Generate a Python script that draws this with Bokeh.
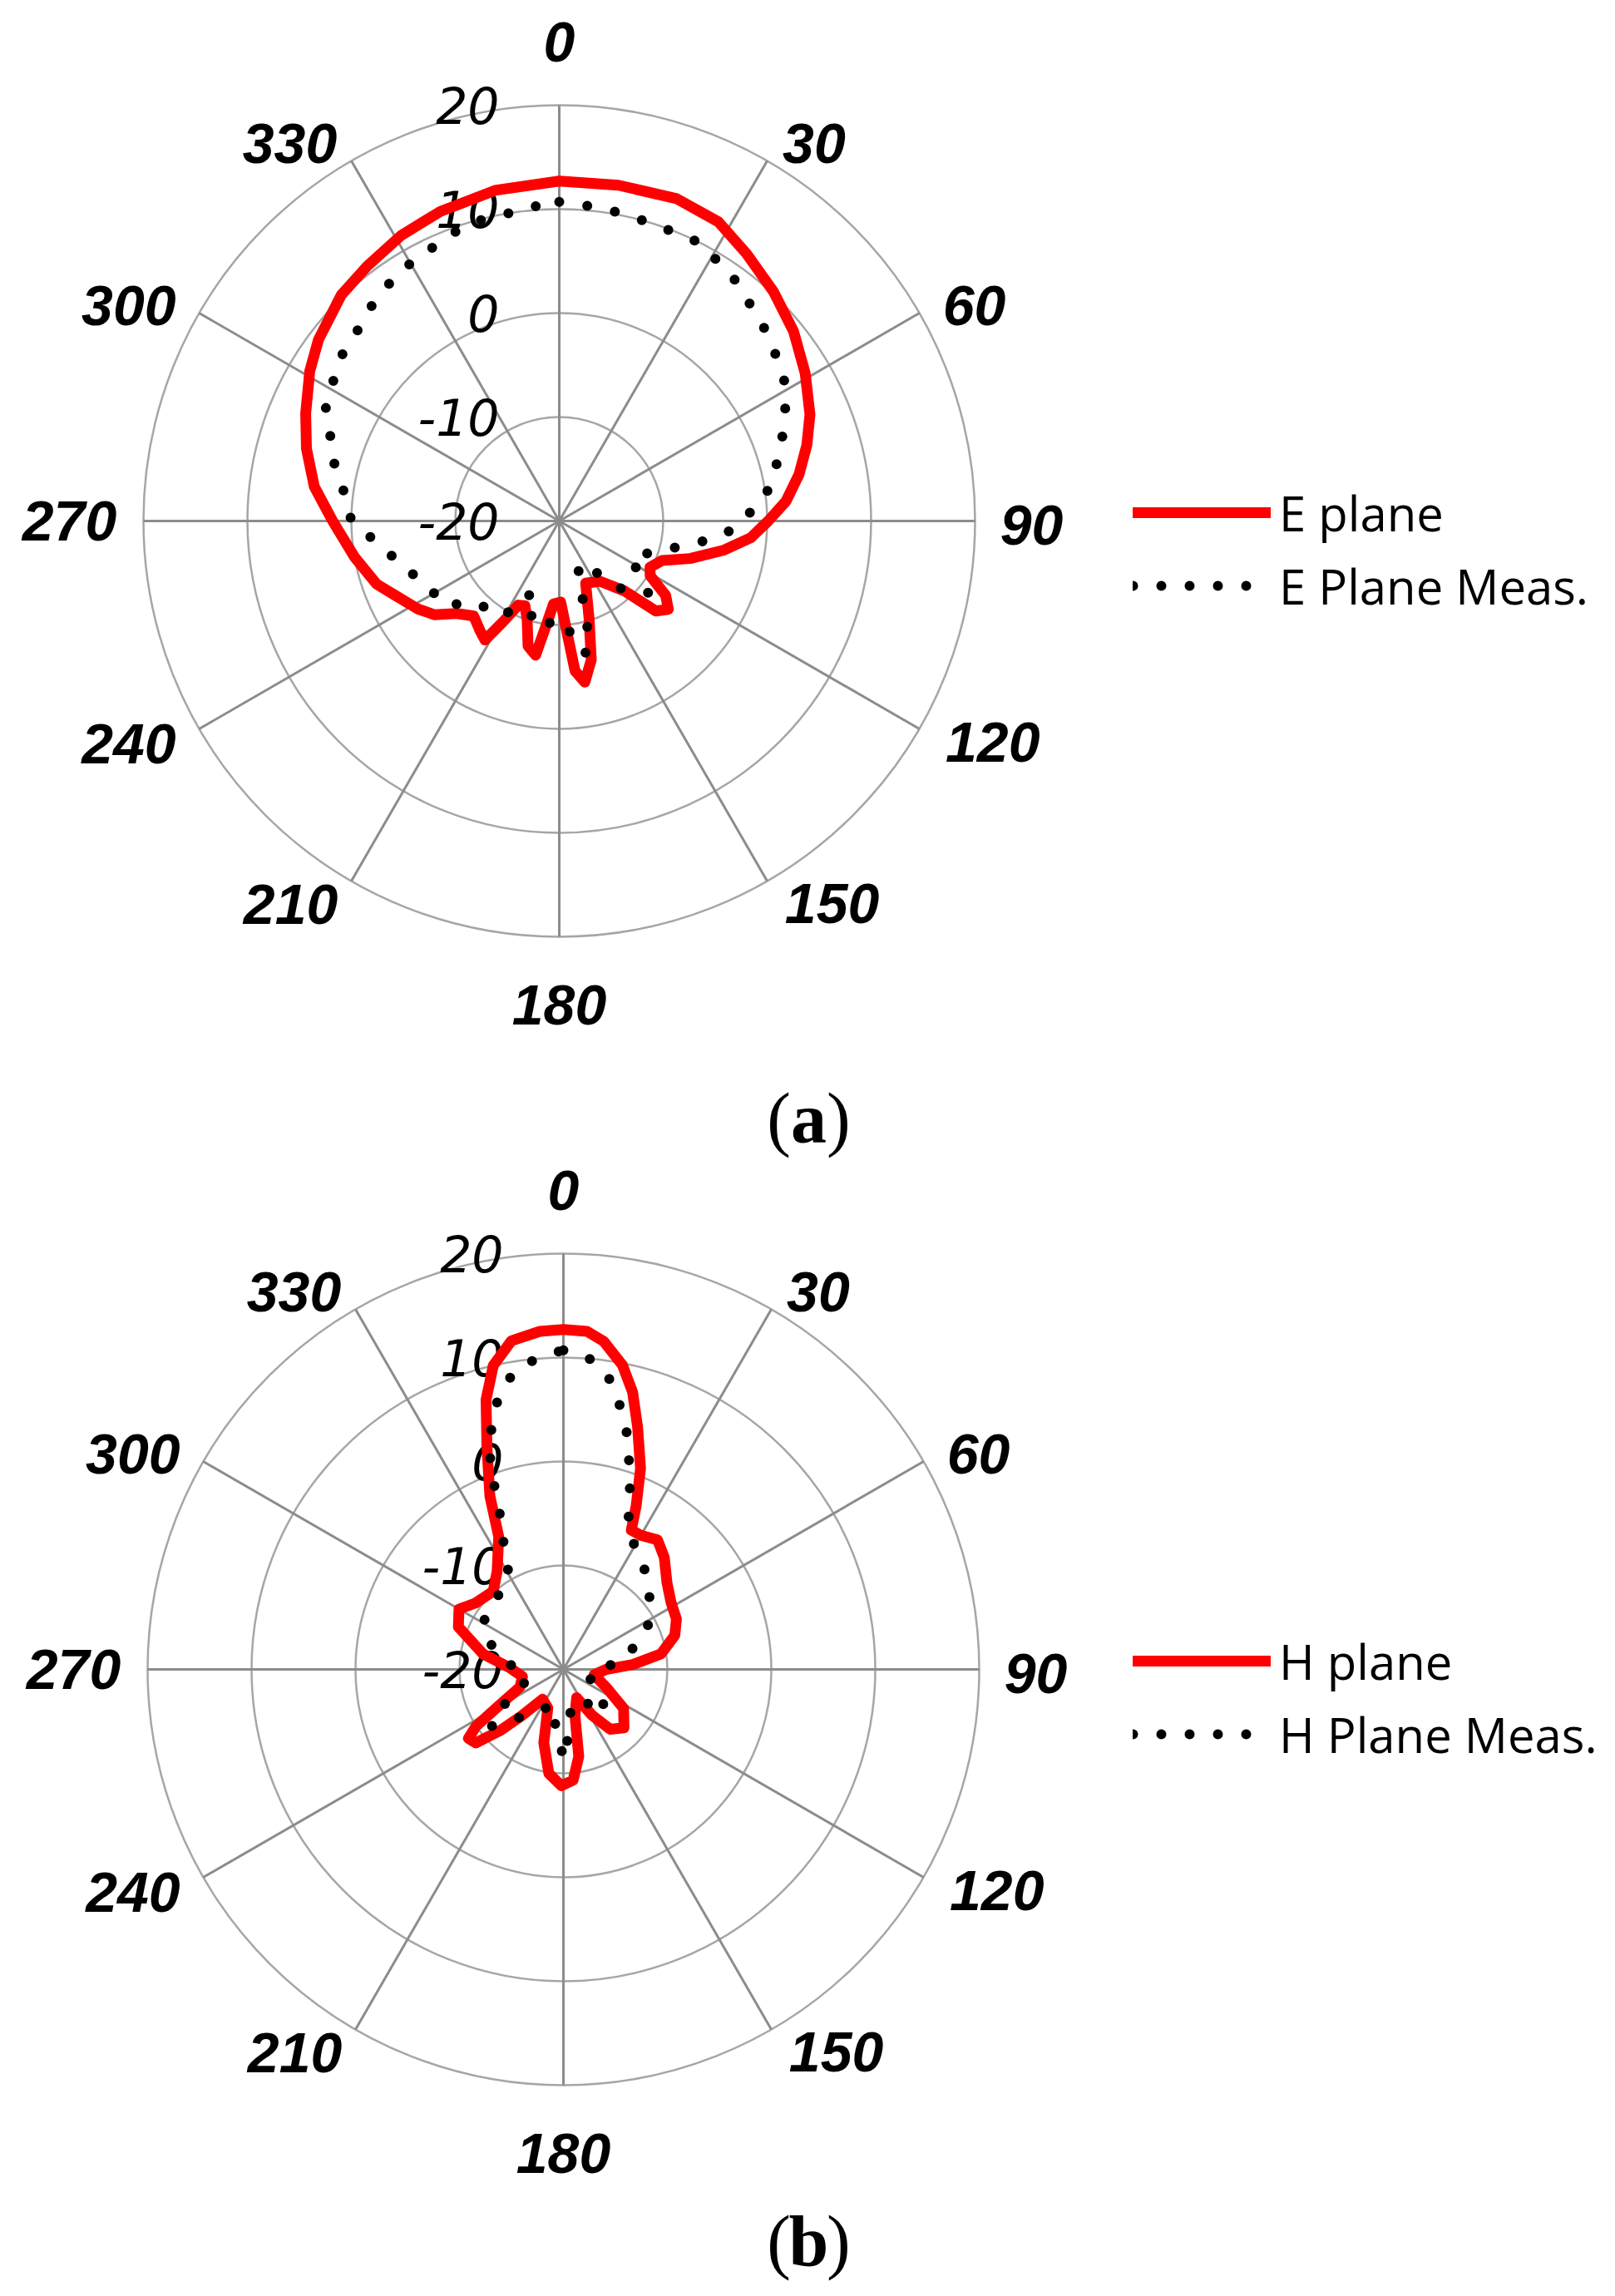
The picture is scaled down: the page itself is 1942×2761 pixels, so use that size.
import numpy as np
from bokeh.plotting import figure
from bokeh.models import Legend, LegendItem, Range1d
from bokeh.embed import file_html
from bokeh.resources import INLINE
from bokeh.core.properties import value

# ---------------- data (degrees clockwise from top, gain in dB) ----------------
e_sim_deg = [0, 10, 20, 28, 35, 43, 51, 59, 67, 73, 79, 85, 90, 95, 100, 106, 111, 117, 121,
             125, 129, 133, 137, 146, 157, 163, 167, 171, 174, 176, 179, 184, 187, 190, 194,
             198, 202, 206, 209, 212, 216, 222, 228, 233, 238, 245, 251, 260, 270, 278, 286,
             293, 301, 307, 316, 323, 331, 339, 349]
e_sim_db = [12.7, 12.8, 13.0, 12.6, 11.4, 10.2, 9.0, 7.6, 6.2, 4.9, 3.5, 1.9, 0.1, -1.5, -3.9,
            -6.9, -9.4, -10.2, -9.8, -7.5, -6.5, -7.3, -10.8, -13.0, -13.5, -10.2, -6.3, -4.3,
            -5.5, -9.2, -12.2, -12.0, -10.0, -6.9, -7.6, -10.0, -11.2, -11.0, -9.0, -6.5, -7.0,
            -7.7, -6.7, -5.0, -4.0, -2.8, -1.4, 0.0, 1.8, 3.8, 5.3, 6.5, 8.0, 9.0, 10.2, 10.7,
            11.4, 11.9, 12.4]

e_meas_deg = [0, 8, 17, 27, 36, 46, 56, 61, 70, 77, 83, 88, 94, 98, 102, 108, 116, 123, 129,
              137, 143, 152, 160, 165, 168, 172, 177, 184, 195, 201, 206, 215, 222, 228, 233,
              243, 252, 263, 270, 275, 281, 286, 292, 296, 302, 307, 312, 317, 327, 333, 337,
              342, 347, 351, 356]
e_meas_db = [10.7, 10.4, 10.0, 10.0, 8.7, 7.2, 5.9, 5.0, 2.8, 1.3, 0.0, -1.8, -3.8, -6.0, -8.2,
             -10.3, -12.3, -11.0, -9.0, -10.9, -13.5, -15.5, -14.7, -9.6, -7.0, -7.5, -10.5,
             -10.2, -9.6, -12.7, -10.4, -8.9, -9.0, -8.4, -6.4, -5.9, -4.7, -2.4, 0.0, 0.5, 1.5,
             2.8, 3.8, 5.0, 5.6, 6.3, 6.5, 7.3, 8.5, 8.8, 9.2, 9.8, 10.0, 10.0, 10.4]

h_sim_deg = [0, 4, 7, 11, 14, 17, 21, 24, 26, 30, 36, 42, 50, 58, 66, 73, 81, 86, 90, 100, 113,
             123, 134, 142, 148, 155, 166, 170, 175, 181, 188, 195, 202, 215, 222, 226, 230,
             234, 237, 240, 248, 260, 272, 281, 292, 300, 307, 318, 326, 334, 337, 341, 344,
             347, 351, 356]
h_sim_db = [12.7, 12.6, 11.8, 9.8, 7.5, 4.4, 0.7, -2.8, -5.1, -5.1, -4.6, -5.5, -7.0, -7.8,
            -8.1, -8.8, -10.5, -13.3, -15.9, -17.0, -15.5, -13.1, -11.9, -12.7, -14.8, -17.0,
            -15.4, -11.5, -9.3, -8.8, -9.9, -12.7, -16.0, -16.5, -14.0, -11.5, -9.0, -8.7,
            -10.0, -12.5, -15.5, -16.0, -14.8, -12.1, -9.1, -8.4, -9.4, -9.9, -8.6, -5.8, -1.9,
            2.6, 7.0, 10.0, 12.0, 12.6]

h_meas_deg = [0, 4, 8, 11, 13, 16, 18, 21, 24, 28, 34, 42, 54, 63, 79, 87, 105, 122, 135, 150,
              166, 175, 179, 186, 196, 206, 218, 228, 232, 242, 255, 263, 280, 292, 300, 312,
              322, 330, 334, 337, 339, 340, 342, 344, 347, 350, 352, 357]
h_meas_db = [10.7, 10.3, 8.9, 7.1, 5.0, 2.9, 0.4, -2.1, -4.7, -6.0, -6.6, -8.1, -9.6, -10.9,
             -13.8, -15.9, -17.5, -16.0, -14.2, -16.5, -16.8, -14.2, -11.3, -13.5, -16.5, -15.8,
             -14.5, -12.3, -11.1, -14.0, -16.5, -16.2, -14.0, -12.0, -11.0, -11.0, -10.2, -9.5,
             -7.0, -4.7, -2.1, 0.6, 2.8, 4.9, 7.3, 8.7, 9.5, 10.3]

angle_ticks = [0, 30, 60, 90, 120, 150, 180, 210, 240, 270, 300, 330]
angle_labels = [str(a) for a in angle_ticks]
radial_ticks = [-20, -10, 0, 10, 20]
radial_labels = [str(v) for v in radial_ticks]

# ---------------- layout constants ----------------
R_MIN = -20          # dB at the centre
PX = 12.5            # screen px per dB
FIG_W, FIG_H = 1942, 2761
POLE_A = (672, 626)  # page px of the pole of panel (a)
POLE_B = (677, 2007)  # page px of the pole of panel (b)
RED = "#ff0000"
# label centre positions (angle, distance px)
lab_pos = {0: (0, 576), 30: (34, 548), 60: (62.6, 562), 90: (90.5, 568), 120: (117, 585),
           150: (144.5, 565), 180: (180, 582), 210: (215, 563), 240: (242.6, 583),
           270: (270, 589), 300: (296.6, 579), 330: (324.5, 558)}

p = figure(width=FIG_W, height=FIG_H, output_backend="svg", toolbar_location=None,
           x_axis_type=None, y_axis_type=None, min_border=0,
           x_range=Range1d(-POLE_A[0] / PX, (FIG_W - POLE_A[0]) / PX),
           y_range=Range1d(-(FIG_H - POLE_A[1]) / PX, POLE_A[1] / PX))
p.outline_line_color = None
p.background_fill_color = "white"


def page_to_data(px, py):
    return (px - POLE_A[0]) / PX, (POLE_A[1] - py) / PX


def polar(deg, db, ox, oy):
    th = np.radians(np.asarray(deg, dtype=float))
    r = np.clip(np.asarray(db, dtype=float) - R_MIN, 0, None)
    return list(ox + r * np.sin(th)), list(oy + r * np.cos(th))


def panel(pole, sim, meas, names, caption_y, letter):
    ox, oy = page_to_data(*pole)
    rmax = radial_ticks[-1] - R_MIN
    # rings
    rings = [v - R_MIN for v in radial_ticks[1:]]
    p.circle(x=[ox] * len(rings), y=[oy] * len(rings), radius=rings, fill_color=None,
             line_color="#a6a6a6", line_width=2.5)
    # spokes
    th = np.radians(angle_ticks)
    p.segment(x0=ox, y0=oy, x1=ox + rmax * np.sin(th), y1=oy + rmax * np.cos(th),
              line_color="#8c8c8c", line_width=3)
    # radial labels
    p.text(x=[ox] * len(radial_ticks), y=[oy + v - R_MIN for v in radial_ticks],
           text=radial_labels, x_offset=-72, text_align="right", text_baseline="middle",
           text_font=value("DejaVu Sans"), text_font_style="italic", text_font_size="60px",
           text_color="black")
    # angle labels
    la = np.radians([lab_pos[a][0] for a in angle_ticks])
    ld = np.array([lab_pos[a][1] for a in angle_ticks]) / PX
    p.text(x=ox + ld * np.sin(la), y=oy + ld * np.cos(la), text=angle_labels,
           text_align="center", text_baseline="middle", text_font=value("Liberation Sans"),
           text_font_style="bold italic", text_font_size="68px", text_color="black")

    sx, sy = polar(*sim, ox, oy)
    mx, my = polar(*meas, ox, oy)
    r_sim = p.line(sx + sx[:1], sy + sy[:1], line_color=RED, line_width=13,
                   line_join="round", line_cap="round")
    r_meas = p.line(mx + mx[:1], my + my[:1], line_color="black", line_width=12,
                    line_dash="0 34", line_cap="round", line_join="round")

    leg_kw = dict(glyph_width=166, glyph_height=80, label_height=80, label_standoff=10,
                  padding=0, margin=0, border_line_color=None, background_fill_alpha=0,
                  label_text_font="Open Sans", label_text_font_size="58px",
                  label_text_color="black")
    gx = 1362
    for rend, name, ypage in ((r_sim, names[0], pole[1] - 10), (r_meas, names[1], pole[1] + 78)):
        yb = FIG_H - ypage - 40
        p.add_layout(Legend(items=[LegendItem(label=name, renderers=[rend])],
                            location=(gx, yb), **leg_kw))

    # caption (a)/(b)
    bx, by = page_to_data(972, caption_y)
    cap = dict(y=[by], text_baseline="middle", text_font=value("Liberation Serif"),
               text_font_size="86px", text_color="black")
    p.text(x=[bx], text=["("], x_offset=-21.5, text_align="right", **cap)
    p.text(x=[bx], text=[letter], text_align="center", text_font_style="bold", **cap)
    p.text(x=[bx], text=[")"], x_offset=21.5, text_align="left", **cap)


panel(POLE_A, (e_sim_deg, e_sim_db), (e_meas_deg, e_meas_db),
      ("E plane", "E Plane Meas."), 1344, "a")
panel(POLE_B, (h_sim_deg, h_sim_db), (h_meas_deg, h_meas_db),
      ("H plane", "H Plane Meas."), 2694, "b")

open("out.html", "w").write(file_html(p, INLINE))
